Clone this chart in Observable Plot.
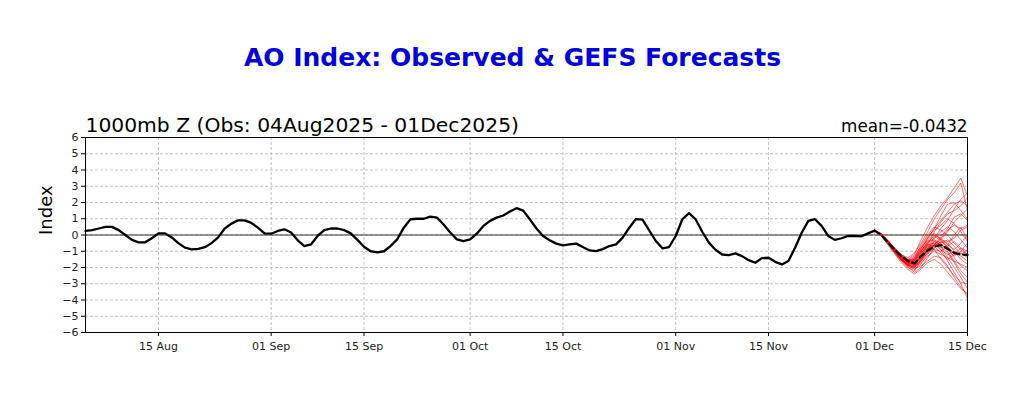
<!DOCTYPE html>
<html>
<head>
<meta charset="utf-8">
<script src="https://cdn.jsdelivr.net/npm/d3@7"></script>
<script src="https://cdn.jsdelivr.net/npm/@observablehq/plot@0.6"></script>
<style>
  html, body { margin: 0; padding: 0; background: #fff; }
  #chart { position: absolute; left: 0; top: 0; }
</style>
</head>
<body>
<div id="chart"></div>
<script>
const titleText = "AO Index: Observed & GEFS Forecasts";
const subtitleLeft = "1000mb Z (Obs: 04Aug2025 - 01Dec2025)";
const subtitleRight = "mean=-0.0432";
const yLabel = "Index";

const obsStart = "2025-08-04";
const fcstStart = "2025-12-01";
const xDomain = ["2025-08-04", "2025-12-15"];
const xTickDates = ["2025-08-15","2025-09-01","2025-09-15","2025-10-01","2025-10-15","2025-11-01","2025-11-15","2025-12-01","2025-12-15"];
const yTicks = [-6,-5,-4,-3,-2,-1,0,1,2,3,4,5,6];

// Observed daily AO index, 04 Aug .. 01 Dec 2025
const observed = [
  0.25,0.3,0.4,0.5,0.5,0.3,0.0,-0.3,-0.45,-0.45,-0.2,0.1,0.1,-0.15,-0.5,-0.78,-0.88,-0.85,-0.75,-0.5,-0.15,0.4,0.7,0.9,0.9,0.75,0.45,0.1,
  0.08,0.25,0.35,0.15,-0.33,-0.68,-0.58,-0.06,0.3,0.4,0.4,0.3,0.1,-0.3,-0.72,-1.0,-1.07,-1.0,-0.68,-0.27,0.45,0.97,1.0,1.0,1.13,1.07,0.65,0.15,-0.27,-0.37,
  -0.27,0.08,0.56,0.87,1.07,1.2,1.45,1.65,1.5,0.97,0.4,-0.06,-0.33,-0.53,-0.64,-0.58,-0.53,-0.74,-0.95,-0.99,-0.87,-0.68,-0.58,-0.16,0.45,0.98,0.95,0.29,-0.37,-0.82,-0.74,
  -0.06,0.97,1.34,0.97,0.2,-0.47,-0.91,-1.2,-1.24,-1.13,-1.3,-1.55,-1.71,-1.42,-1.4,-1.65,-1.81,-1.6,-0.78,0.14,0.87,0.97,0.56,-0.06,-0.3,-0.2,-0.06,-0.06,-0.08,0.1,
  0.27
];

// GEFS ensemble members, 01 Dec .. 15 Dec 2025
const members = [
  [0.27,0.05,-0.4,-0.9,-1.3,-1.5,-1.2,-0.3,0.5,1.2,1.8,2.3,2.9,3.5,2.4],
  [0.27,0.1,-0.3,-0.8,-1.2,-1.4,-1.1,-0.5,0.2,1.0,1.6,2.2,2.6,3.2,1.5],
  [0.27,0.0,-0.5,-1.0,-1.5,-1.8,-1.5,-0.8,-0.2,0.4,1.2,1.9,2.0,1.5,1.0],
  [0.27,0.05,-0.45,-0.95,-1.4,-1.7,-1.9,-1.3,-0.6,0.2,0.8,1.3,1.5,1.8,2.3],
  [0.27,0.0,-0.4,-0.9,-1.3,-1.6,-1.4,-0.6,0.0,0.5,0.3,0.0,-0.5,-0.9,-1.2],
  [0.27,-0.05,-0.55,-1.1,-1.6,-2.0,-2.2,-1.6,-0.8,-0.3,-0.5,-1.0,-1.6,-2.2,-2.6],
  [0.27,0.0,-0.5,-1.0,-1.5,-1.9,-2.1,-1.8,-1.2,-0.6,-0.2,0.3,0.6,0.4,0.6],
  [0.27,0.0,-0.45,-0.9,-1.35,-1.7,-1.6,-1.0,-0.4,-0.3,-0.7,-1.4,-2.0,-2.6,-3.3],
  [0.27,0.05,-0.35,-0.8,-1.2,-1.5,-1.7,-1.4,-0.9,-0.5,-0.9,-1.6,-2.3,-3.0,-3.9],
  [0.27,-0.05,-0.6,-1.15,-1.7,-2.1,-2.4,-2.1,-1.7,-1.5,-1.8,-2.3,-2.8,-3.3,-3.6],
  [0.27,0.0,-0.5,-1.0,-1.45,-1.8,-1.9,-1.4,-0.8,-0.4,-0.6,-0.9,-1.3,-1.0,-0.5],
  [0.27,0.05,-0.4,-0.85,-1.25,-1.55,-1.3,-0.7,-0.1,0.3,0.6,1.0,0.7,0.2,-0.4],
  [0.27,0.0,-0.5,-1.0,-1.5,-1.85,-2.0,-1.7,-1.3,-1.0,-1.2,-1.4,-1.6,-1.8,-2.0],
  [0.27,0.0,-0.45,-0.95,-1.4,-1.75,-1.8,-1.2,-0.5,0.0,-0.2,-0.6,-0.9,-0.5,0.0],
  [0.27,0.05,-0.4,-0.85,-1.3,-1.6,-1.5,-0.9,-0.6,-0.7,-1.1,-1.5,-1.2,-0.8,-1.0],
  [0.27,-0.05,-0.55,-1.05,-1.55,-1.95,-2.3,-2.0,-1.4,-0.8,-0.4,-0.5,-1.0,-1.5,-1.8],
  [0.27,0.0,-0.5,-1.0,-1.45,-1.8,-1.7,-1.1,-0.7,-0.9,-1.5,-2.0,-2.5,-2.9,-3.0],
  [0.27,0.05,-0.35,-0.8,-1.2,-1.5,-1.6,-1.2,-0.8,-0.6,-0.3,0.2,0.8,1.2,1.6],
  [0.27,0.0,-0.45,-0.95,-1.4,-1.8,-2.0,-1.5,-0.9,-0.6,-0.9,-1.2,-1.0,-1.3,-1.6],
  [0.27,0.0,-0.5,-1.0,-1.45,-1.7,-1.5,-1.0,-0.5,-0.2,0.2,0.5,0.2,-0.3,-0.8],
  [0.27,0.05,-0.4,-0.9,-1.35,-1.65,-1.85,-1.6,-1.1,-0.6,-0.1,0.4,1.1,1.3,0.9],
  [0.27,-0.05,-0.5,-1.05,-1.55,-1.9,-2.1,-1.9,-1.6,-1.3,-1.4,-1.9,-2.6,-3.2,-3.7],
  [0.27,0.0,-0.45,-0.9,-1.3,-1.6,-1.4,-0.8,-0.3,0.1,-0.3,-0.8,-1.4,-1.9,-2.2],
  [0.27,0.0,-0.5,-1.0,-1.5,-1.85,-1.95,-1.5,-1.0,-0.7,-0.4,-0.7,-1.2,-1.1,-1.4],
  [0.27,0.05,-0.4,-0.85,-1.3,-1.6,-1.7,-1.3,-0.7,-0.2,0.4,0.9,1.6,2.2,2.6],
  [0.27,0.0,-0.45,-0.95,-1.45,-1.8,-1.9,-1.5,-1.0,-0.9,-1.0,-0.7,-0.4,-0.8,-1.2],
  [0.27,0.0,-0.5,-1.0,-1.5,-1.8,-1.6,-1.0,-0.4,-0.1,-0.3,-0.4,-0.2,0.3,0.5],
  [0.27,0.05,-0.4,-0.9,-1.35,-1.7,-1.8,-1.4,-0.9,-0.4,-0.7,-1.1,-1.7,-2.4,-2.9],
  [0.27,0.0,-0.5,-1.0,-1.5,-1.85,-2.0,-1.6,-1.1,-0.8,-0.5,-0.3,-0.7,-1.2,-0.9],
  [0.27,0.0,-0.45,-0.95,-1.4,-1.7,-1.6,-1.1,-0.6,-0.5,-0.8,-0.6,0.0,0.5,-0.3],
  [0.27,0.05,-0.4,-0.9,-1.3,-1.6,-1.5,-0.9,-0.2,0.4,0.9,1.4,1.9,2.1,1.8]
];

// Ensemble mean, 01 Dec .. 15 Dec 2025
const ensMean = [0.27,0.0,-0.45,-0.9,-1.3,-1.6,-1.75,-1.3,-0.95,-0.7,-0.62,-0.85,-1.1,-1.2,-1.22];

// ---- build tables ----
const parse = d3.utcParse("%Y-%m-%d");
const obsDate0 = parse(obsStart);
const fcDate0 = parse(fcstStart);
const obsData = observed.map((v, i) => ({date: d3.utcDay.offset(obsDate0, i), value: v}));
const memData = members.flatMap((arr, m) => arr.map((v, i) => ({member: m, date: d3.utcDay.offset(fcDate0, i), value: v})));
const meanData = ensMean.map((v, i) => ({date: d3.utcDay.offset(fcDate0, i), value: v}));
const xTicks = xTickDates.map(parse);
const minus = d => d < 0 ? "\u2212" + Math.abs(d) : String(d);

const font = "DejaVu Sans, sans-serif";

const chart = Plot.plot({
  width: 1024,
  height: 393,
  marginLeft: 85,
  marginRight: 57,
  marginTop: 137,
  marginBottom: 61,
  style: {fontFamily: font, background: "white", overflow: "visible"},
  x: {type: "utc", domain: xDomain.map(parse)},
  y: {domain: [-6, 6]},
  marks: [
    Plot.gridY(yTicks.slice(1, -1), {stroke: "#b0b0b0", strokeOpacity: 1, strokeWidth: 0.8, strokeDasharray: "3,2"}),
    Plot.gridX(xTicks.slice(0, -1), {stroke: "#b0b0b0", strokeOpacity: 1, strokeWidth: 0.8, strokeDasharray: "3,2"}),
    Plot.ruleY([0], {stroke: "#333", strokeWidth: 1}),
    Plot.line(memData, {x: "date", y: "value", z: "member", stroke: "#ff0000", strokeOpacity: 0.55, strokeWidth: 1}),
    Plot.line(obsData, {x: "date", y: "value", stroke: "black", strokeWidth: 2.3}),
    Plot.line(meanData, {x: "date", y: "value", stroke: "black", strokeWidth: 2.3, strokeDasharray: "6,4"}),
    Plot.frame({stroke: "black", strokeWidth: 1}),
    Plot.axisX({ticks: xTicks, tickFormat: d3.utcFormat("%d %b"), tickSize: 4, fontSize: 11, fill: "#222", label: null, tickPadding: 6}),
    Plot.axisY({ticks: yTicks, tickFormat: minus, tickSize: 4, fontSize: 11, fill: "#222", label: null, tickPadding: 3}),
    Plot.text([titleText], {frameAnchor: "top", dx: -14, dy: -72, lineAnchor: "bottom", fontSize: 25, fontWeight: "bold", fill: "#0000dd", fontFamily: font}),
    Plot.text([subtitleLeft], {frameAnchor: "top-left", dy: -6, lineAnchor: "bottom", textAnchor: "start", fontSize: 20.3, fill: "black", fontFamily: font}),
    Plot.text([subtitleRight], {frameAnchor: "top-right", dy: -6, lineAnchor: "bottom", textAnchor: "end", fontSize: 16.8, fill: "black", fontFamily: font}),
    Plot.text([yLabel], {frameAnchor: "left", dx: -39, rotate: -90, fontSize: 18, fill: "black", fontFamily: font})
  ]
});
document.getElementById("chart").appendChild(chart);
</script>
</body>
</html>
